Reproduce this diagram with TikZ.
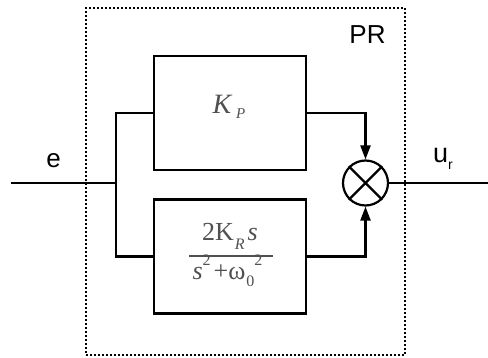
\documentclass[tikz,border=0pt]{standalone}
\usepackage{fontspec}
\setmainfont{Liberation Sans}
\newfontfamily\tms{Liberation Serif}
\usetikzlibrary{arrows.meta}
\definecolor{mathgray}{HTML}{505050}
\newcommand{\lowtxt}[3]{\raisebox{-#1pt}{\fontsize{#2}{#2}\selectfont #3}}
\begin{document}
\begin{tikzpicture}[x=1pt,y=-1pt,
  blk/.style={draw,line width=2.2pt,minimum width=152pt,minimum height=114pt,inner sep=0pt},
  wire/.style={line width=2.2pt},
  arr/.style={line width=2.2pt,-{Triangle[length=14pt,width=10pt]}},
  lbl/.style={font=\fontsize{26}{28}\selectfont,inner sep=0pt,anchor=base},
  mth/.style={text=mathgray,font=\tms\fontsize{26}{28}\selectfont,inner sep=0pt,anchor=base}]
\useasboundingbox (0,0) rectangle (488,358);
\node[draw,line width=2pt,dash pattern=on 2pt off 2pt,minimum width=319pt,minimum height=347pt,inner sep=0pt] (pr) at (245.5,181.5) {};
\node[blk] (kp) at (230,113) {};
\node[mth,font=\tms\fontsize{28}{30}\selectfont] (kpt) at (229,114) {\itshape K\,\lowtxt{5}{15}{P}};
\node[blk] (kr) at (230,256.5) {};
\node[mth] (num) at (230,241) {2K\kern1pt\lowtxt{9}{16}{\itshape R}\hspace{3pt}\itshape s};
\node[mth] (den) at (227.5,280) {\itshape s\/\lowtxt{-14}{16}{\upshape 2}\hspace{3pt}\upshape +ω\kern1pt\lowtxt{7}{16}{0}\lowtxt{-14}{16}{2}};
\coordinate (fl) at (189,256);
\coordinate (fr) at (273,256);
\draw[mathgray,line width=1.8pt] (fl) -- (fr);
\node[draw,circle,line width=2.2pt,minimum size=45pt,inner sep=0pt] (sum) at (365.5,183) {};
\draw[line width=2.2pt] (sum.45) -- (sum.225) (sum.135) -- (sum.315);
\coordinate (in) at (11,183);
\coordinate (j) at (116,183);
\coordinate (out) at (488,183);
\draw[wire] (in) -- (j);
\draw[wire] (kp.west) -| (j) |- (kr.west);
\draw[arr] (kp.east) -| (sum.north);
\draw[arr] (kr.east) -| (sum.south);
\draw[wire] (sum.east) -- (out);
\node[lbl] (e) at (53.5,168) {e};
\node[lbl] (ur) at (443,163) {\fontsize{27}{28}\selectfont u\lowtxt{7}{14}{r}};
\node[lbl] (prl) at (367.5,44) {PR};
\end{tikzpicture}
\end{document}
